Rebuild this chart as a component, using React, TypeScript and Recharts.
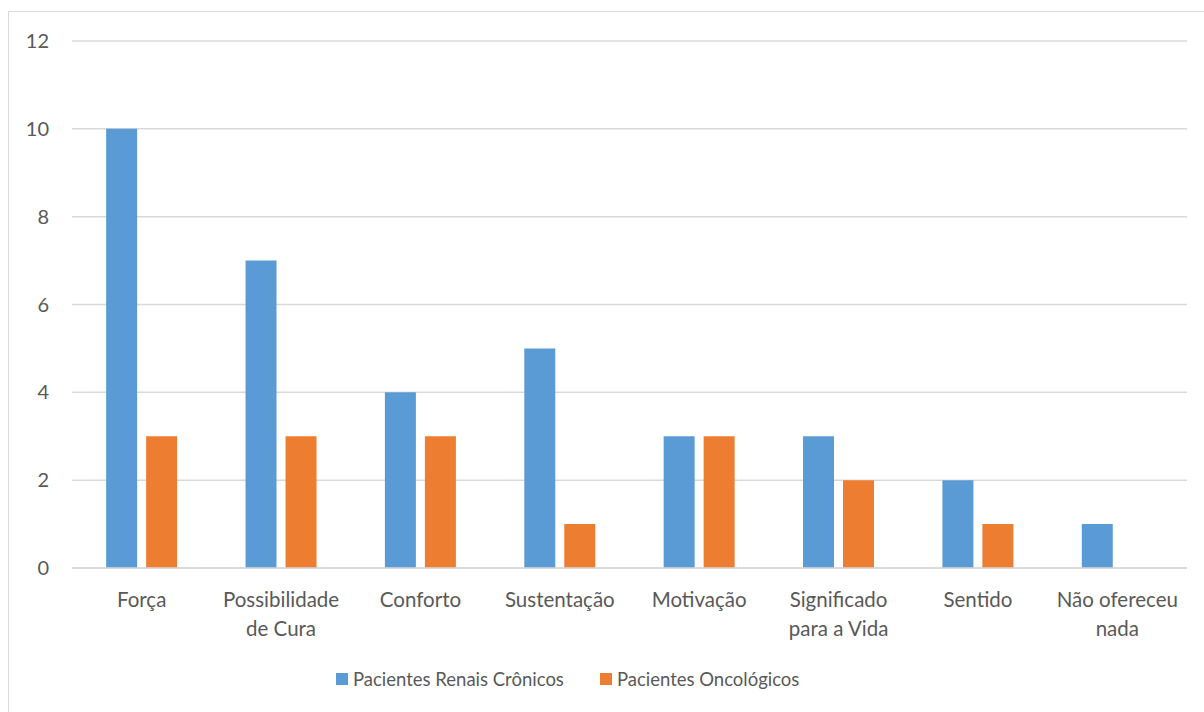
import { BarChart, Bar, XAxis, YAxis, CartesianGrid, Legend } from "recharts";

const categories = [
  "Força",
  "Possibilidade de Cura",
  "Conforto",
  "Sustentação",
  "Motivação",
  "Significado para a Vida",
  "Sentido",
  "Não ofereceu nada",
];
const renais = [10, 7, 4, 5, 3, 3, 2, 1];
const oncologicos = [3, 3, 3, 1, 3, 2, 1, 0];
const yTicks = [0, 2, 4, 6, 8, 10, 12];

const seriesNames = ["Pacientes Renais Crônicos", "Pacientes Oncológicos"];
const BLUE = "#5b9bd5";
const ORANGE = "#ed7d31";
const TEXT = "#595959";
const FONT = "Lato, 'Open Sans', sans-serif";

const data = categories.map((name, i) => ({
  name,
  renais: renais[i],
  oncologicos: oncologicos[i],
}));

// greedy word wrap, roughly what fits under one category
function wrap(label: string, max = 12) {
  const lines: string[] = [];
  let cur = "";
  for (const w of label.split(" ")) {
    const next = cur ? cur + " " + w : w;
    if (next.length > max && cur) {
      lines.push(cur);
      cur = w;
    } else cur = next;
  }
  if (cur) lines.push(cur);
  return lines;
}

function CategoryTick({ x, y, payload }: any) {
  const lines = wrap(payload.value);
  return (
    <text x={x} y={y} textAnchor="middle" fill={TEXT} fontSize={20.5} fontFamily={FONT}>
      {lines.map((l, i) => (
        <tspan key={i} x={x} dy={i === 0 ? 31 : 29}>
          {l}
        </tspan>
      ))}
    </text>
  );
}

function LegendBox() {
  const colors = [BLUE, ORANGE];
  return (
    <div style={{ display: "flex", alignItems: "center", fontFamily: FONT, fontSize: 18.5, color: TEXT }}>
      {seriesNames.map((n, i) => (
        <div key={n} style={{ display: "flex", alignItems: "center", marginRight: i === 0 ? 36 : 0 }}>
          <span style={{ width: 12, height: 12, background: colors[i], marginRight: 5, display: "inline-block" }} />
          <span>{n}</span>
        </div>
      ))}
    </div>
  );
}

export default function App() {
  return (
    <div style={{ position: "absolute", left: 0, top: 0, width: 1204, height: 712, overflow: "hidden", background: "#fff" }}>
      <div
        style={{
          position: "absolute",
          left: 8,
          top: 11,
          width: 1210,
          height: 720,
          border: "1px solid #d9d9d9",
          boxSizing: "border-box",
        }}
      />
      <div style={{ position: "absolute", left: 0, top: 0 }}>
        <BarChart
          width={1204}
          height={712}
          data={data}
          margin={{ top: 41, right: 17, left: 0, bottom: 52 }}
          barGap={9}
          barCategoryGap="24.5%"
        >
          <CartesianGrid vertical={false} stroke="#d9d9d9" strokeWidth={1.5} />
          <XAxis
            dataKey="name"
            axisLine={{ stroke: "#d9d9d9", strokeWidth: 1.5 }}
            tickLine={false}
            tick={<CategoryTick />}
            interval={0}
            height={70}
          />
          <YAxis
            domain={[0, 12]}
            ticks={yTicks}
            width={72}
            axisLine={false}
            tickLine={false}
            tickSize={0}
            tickMargin={23}
            tick={{ fill: TEXT, fontSize: 20, fontFamily: FONT }}
          />
          <Legend
            content={<LegendBox />}
            wrapperStyle={{ left: 336, top: 668, width: "auto" }}
          />
          <Bar dataKey="renais" name={seriesNames[0]} fill={BLUE} isAnimationActive={false} />
          <Bar dataKey="oncologicos" name={seriesNames[1]} fill={ORANGE} isAnimationActive={false} />
        </BarChart>
      </div>
    </div>
  );
}
